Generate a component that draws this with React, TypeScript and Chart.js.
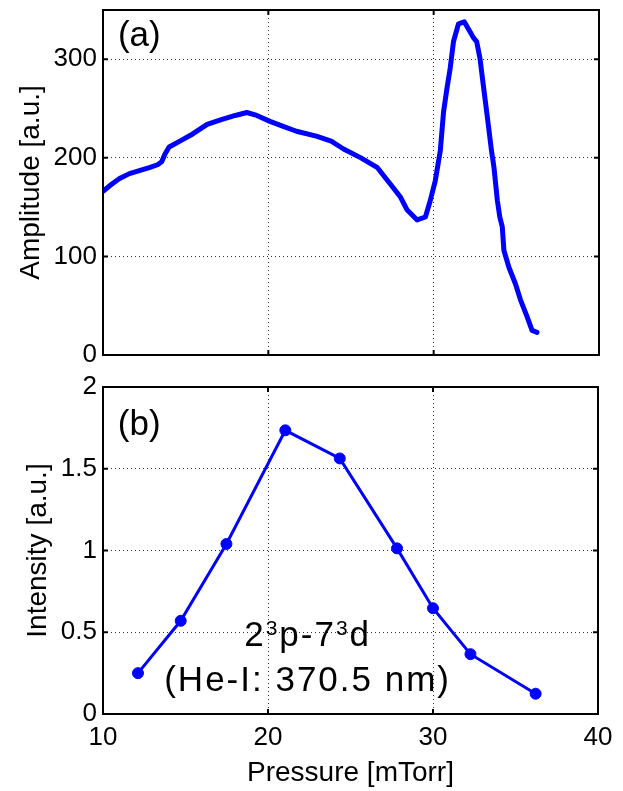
import React, { useEffect, useRef } from "react";
import { Chart, registerables } from "chart.js";

Chart.register(...registerables);

// ---------- data ----------
const pressureA = [
  10.0, 10.5, 11.0, 11.6, 12.2, 12.8, 13.3, 13.55, 13.75, 14.0, 14.65, 15.4, 16.3, 17.2, 18.0, 18.7,
  19.3, 20.1, 20.9, 21.7, 22.9, 23.8, 24.55, 25.6, 26.6, 27.4, 28.0, 28.4, 29.0, 29.5, 29.8, 30.1,
  30.4, 30.6, 30.8, 31.0, 31.2, 31.5, 31.85, 32.2, 32.4, 32.6, 32.8, 33.0, 33.25, 33.5, 33.65, 33.85,
  34.0, 34.15, 34.25, 34.55, 34.95, 35.25, 35.65, 35.95, 36.25,
];
const amplitudeA = [
  166, 173, 179, 184, 187, 190, 193, 196, 204, 211, 217, 224, 234, 239, 243, 246,
  243, 237, 232, 227, 222, 217, 209, 200, 190, 173, 160, 147, 137, 140, 157, 177,
  207, 247, 270, 291, 318, 336, 338, 328, 322, 318, 301, 274, 241, 207, 190, 157,
  140, 130, 106, 89, 72, 56, 39, 25, 23,
];

const pressureB = [12.12, 14.71, 17.48, 21.05, 24.35, 27.82, 30.0, 32.27, 36.22];
const intensityB = [0.25, 0.57, 1.04, 1.735, 1.563, 1.013, 0.647, 0.366, 0.124];

const xTicks = [10, 20, 30, 40];
const yTicksA = [0, 100, 200, 300];
const yTicksB = [0, 0.5, 1, 1.5, 2];

const xTitle = "Pressure [mTorr]";
const yTitleA = "Amplitude [a.u.]";
const yTitleB = "Intensity [a.u.]";
const panelA = "(a)";
const panelB = "(b)";
const lineLabel1 = [
  { t: "2", sup: false },
  { t: "3", sup: true },
  { t: "p-7", sup: false },
  { t: "3", sup: true },
  { t: "d", sup: false },
];
const lineLabel2 = "(He-I: 370.5 nm)";

// ---------- styling ----------
const FONT = "'Liberation Sans', Arial, Helvetica, sans-serif";
const BLUE = "#0000ff";

const framePlugin = {
  id: "frame",
  afterDraw(chart: any) {
    const { ctx, chartArea: a, scales } = chart;
    ctx.save();
    ctx.strokeStyle = "#000";
    ctx.lineWidth = 2;
    ctx.setLineDash([]);
    ctx.strokeRect(a.left, a.top, a.right - a.left, a.bottom - a.top);
    const tl = 5;
    ctx.beginPath();
    scales.x.ticks.forEach((t: any) => {
      const px = scales.x.getPixelForValue(t.value);
      ctx.moveTo(px, a.bottom);
      ctx.lineTo(px, a.bottom - tl);
      ctx.moveTo(px, a.top);
      ctx.lineTo(px, a.top + tl);
    });
    scales.y.ticks.forEach((t: any) => {
      const py = scales.y.getPixelForValue(t.value);
      ctx.moveTo(a.left, py);
      ctx.lineTo(a.left + tl, py);
      ctx.moveTo(a.right, py);
      ctx.lineTo(a.right - tl, py);
    });
    ctx.stroke();
    ctx.restore();
  },
};

function textPlugin(draws: (chart: any) => void) {
  return {
    id: "texts",
    afterDraw(chart: any) {
      const ctx = chart.ctx;
      ctx.save();
      draws(chart);
      ctx.restore();
    },
  };
}

function gridCfg() {
  return {
    color: "rgba(0,0,0,0.8)",
    lineWidth: 1,
    drawTicks: false,
    borderDash: [1, 3],
  };
}
function borderCfg() {
  return { display: false, dash: [1, 3] };
}

function makeX(showLabels: boolean, height: number) {
  return {
    type: "linear",
    min: 10,
    max: 40,
    afterBuildTicks: (s: any) => {
      s.ticks = xTicks.map((v) => ({ value: v }));
    },
    ticks: {
      display: showLabels,
      font: { size: 26, family: FONT },
      color: "#000",
      padding: 8,
      maxRotation: 0,
      callback: (v: any) => String(v),
    },
    grid: gridCfg(),
    border: borderCfg(),
    title: {
      display: showLabels,
      text: xTitle,
      font: { size: 28, family: FONT },
      color: "#000",
      padding: { top: 0, bottom: 1 },
    },
    afterFit: (s: any) => {
      s.height = height;
      s.paddingLeft = 0;
      s.paddingRight = 0;
    },
  };
}

function makeY(min: number, max: number, ticks: number[], title: string, titlePad: number) {
  return {
    type: "linear",
    min,
    max,
    afterBuildTicks: (s: any) => {
      s.ticks = ticks.map((v) => ({ value: v }));
    },
    ticks: {
      font: { size: 26, family: FONT },
      color: "#000",
      padding: 6,
      callback: (v: any) => String(v),
    },
    grid: gridCfg(),
    border: borderCfg(),
    title: {
      display: true,
      text: title,
      font: { size: 28, family: FONT },
      color: "#000",
      padding: { top: titlePad, bottom: 0 },
    },
    afterFit: (s: any) => {
      s.width = 103;
      s.paddingTop = 0;
      s.paddingBottom = 0;
    },
  };
}

export default function App() {
  const topRef = useRef<HTMLCanvasElement>(null);
  const botRef = useRef<HTMLCanvasElement>(null);

  useEffect(() => {
    const top = new Chart(topRef.current as HTMLCanvasElement, {
      type: "line",
      data: {
        datasets: [
          {
            data: pressureA.map((x, i) => ({ x, y: amplitudeA[i] })),
            borderColor: BLUE,
            backgroundColor: BLUE,
            borderWidth: 5,
            pointRadius: 0,
            tension: 0,
            borderJoinStyle: "round",
            borderCapStyle: "round",
          } as any,
        ],
      },
      options: {
        responsive: false,
        animation: false,
        layout: { padding: { top: 10, right: 24, left: 0, bottom: 0 } },
        plugins: { legend: { display: false }, tooltip: { enabled: false } },
        scales: {
          x: makeX(false, 17) as any,
          y: makeY(0, 350, yTicksA, yTitleA, 14) as any,
        },
      },
      plugins: [
        framePlugin,
        textPlugin((chart: any) => {
          const ctx = chart.ctx;
          ctx.fillStyle = "#000";
          ctx.font = `35px ${FONT}`;
          ctx.textAlign = "left";
          ctx.textBaseline = "alphabetic";
          ctx.fillText(panelA, chart.scales.x.getPixelForValue(10.9), chart.scales.y.getPixelForValue(313.5));
        }),
      ],
    } as any);

    const bot = new Chart(botRef.current as HTMLCanvasElement, {
      type: "line",
      data: {
        datasets: [
          {
            data: pressureB.map((x, i) => ({ x, y: intensityB[i] })),
            borderColor: BLUE,
            backgroundColor: BLUE,
            borderWidth: 3,
            pointRadius: 5.5,
            pointBackgroundColor: BLUE,
            pointBorderColor: BLUE,
            pointBorderWidth: 1,
            tension: 0,
          } as any,
        ],
      },
      options: {
        responsive: false,
        animation: false,
        layout: { padding: { top: 15, right: 25, left: 0, bottom: 0 } },
        plugins: { legend: { display: false }, tooltip: { enabled: false } },
        scales: {
          x: makeX(true, 77) as any,
          y: makeY(0, 2, yTicksB, yTitleB, 21) as any,
        },
      },
      plugins: [
        framePlugin,
        textPlugin((chart: any) => {
          const ctx = chart.ctx;
          const xs = chart.scales.x;
          const ys = chart.scales.y;
          ctx.fillStyle = "#000";
          ctx.textBaseline = "alphabetic";
          ctx.textAlign = "left";
          ctx.font = `35px ${FONT}`;
          ctx.fillText(panelB, xs.getPixelForValue(10.9), ys.getPixelForValue(1.709));

          const cx = xs.getPixelForValue(22.4);
          const size = 35;
          const supSize = 21;
          const spacing = 2;
          // line 1 with superscripts
          const widths = lineLabel1.map((s) => {
            ctx.font = `${s.sup ? supSize : size}px ${FONT}`;
            return ctx.measureText(s.t).width + spacing * s.t.length;
          });
          const total = widths.reduce((a, b) => a + b, 0);
          let x = cx - total / 2;
          const base1 = ys.getPixelForValue(0.413);
          lineLabel1.forEach((s) => {
            ctx.font = `${s.sup ? supSize : size}px ${FONT}`;
            for (const ch of s.t) {
              ctx.fillText(ch, x, s.sup ? base1 - 11 : base1);
              x += ctx.measureText(ch).width + spacing;
            }
          });
          // line 2
          ctx.font = `${size}px ${FONT}`;
          const chars = Array.from(lineLabel2);
          const w2 = chars.reduce((acc, ch) => acc + ctx.measureText(ch).width + spacing, 0);
          let x2 = cx - w2 / 2;
          const base2 = ys.getPixelForValue(0.138);
          chars.forEach((ch) => {
            ctx.fillText(ch, x2, base2);
            x2 += ctx.measureText(ch).width + spacing;
          });
        }),
      ],
    } as any);

    return () => {
      top.destroy();
      bot.destroy();
    };
  }, []);

  return (
    <div style={{ position: "absolute", left: 0, top: 0, width: 623, height: 791, background: "#fff" }}>
      <canvas ref={topRef} width={623} height={372} style={{ position: "absolute", left: 0, top: 0, width: 623, height: 372 }} />
      <canvas ref={botRef} width={623} height={419} style={{ position: "absolute", left: 0, top: 372, width: 623, height: 419 }} />
    </div>
  );
}
